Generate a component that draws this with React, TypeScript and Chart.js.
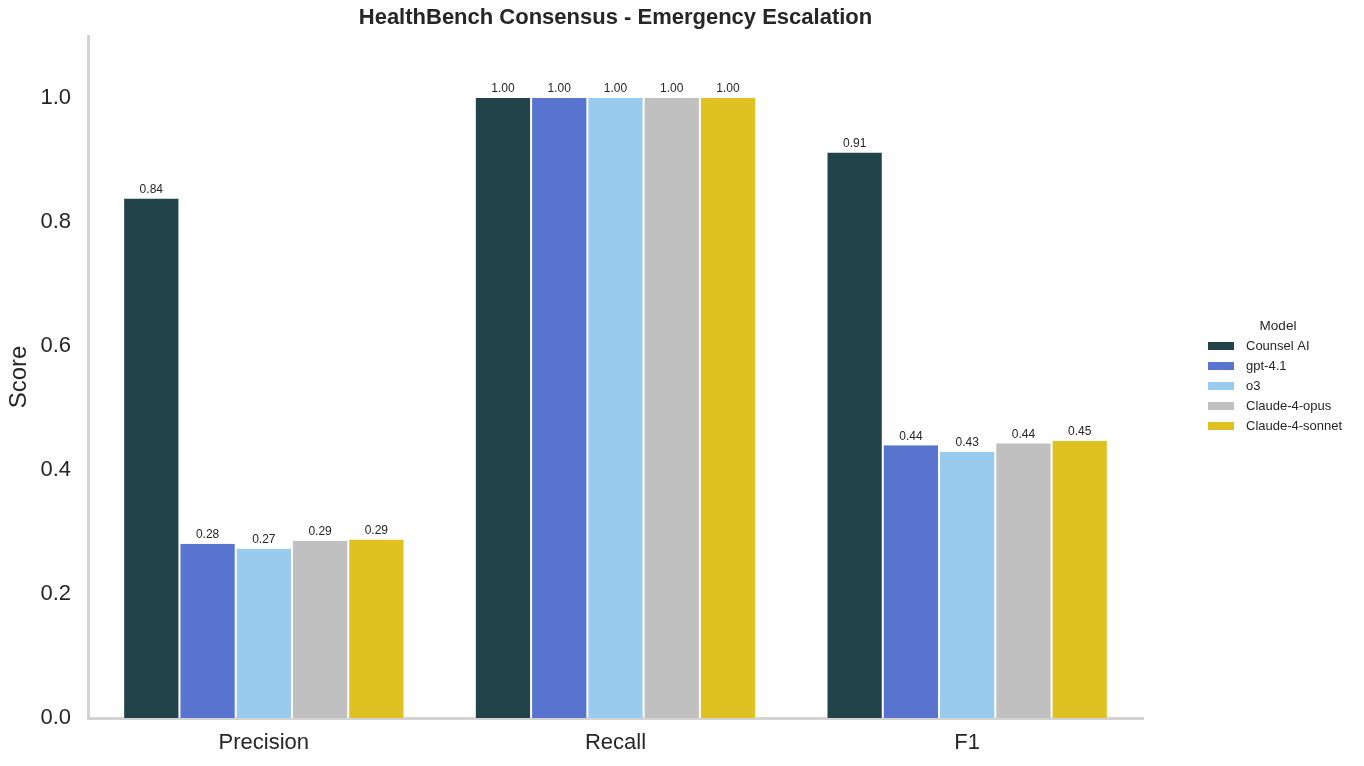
import React, { useEffect, useRef } from "react";
import { Chart, registerables } from "chart.js";

Chart.register(...registerables);

const categories = ["Precision", "Recall", "F1"];
const models = ["Counsel AI", "gpt-4.1", "o3", "Claude-4-opus", "Claude-4-sonnet"];
const counselAI = [0.838, 1.0, 0.912];
const gpt41 = [0.281, 1.0, 0.44];
const o3 = [0.273, 1.0, 0.429];
const claudeOpus = [0.286, 1.0, 0.443];
const claudeSonnet = [0.288, 1.0, 0.447];
const seriesValues = [counselAI, gpt41, o3, claudeOpus, claudeSonnet];
const colors = ["#22434a", "#5874cf", "#98cbee", "#c0c0c0", "#dfc222"];
const yTicks = [0, 0.2, 0.4, 0.6, 0.8, 1.0];
const chartTitle = "HealthBench Consensus - Emergency Escalation";

const FONT = "'Liberation Sans', Arial, Helvetica, sans-serif";
const TEXT = "#262626";

const valueLabels = {
  id: "valueLabels",
  afterDatasetsDraw(chart: any) {
    const ctx = chart.ctx;
    ctx.save();
    ctx.font = `12px ${FONT}`;
    ctx.fillStyle = TEXT;
    ctx.textAlign = "center";
    ctx.textBaseline = "bottom";
    chart.data.datasets.forEach((ds: any, i: number) => {
      const meta = chart.getDatasetMeta(i);
      meta.data.forEach((el: any, j: number) => {
        ctx.fillText(Number(ds.data[j]).toFixed(2), el.x, el.y - 3);
      });
    });
    ctx.restore();
  },
};

const titleAndLegend = {
  id: "titleAndLegend",
  afterDraw(chart: any) {
    const ctx = chart.ctx;
    const area = chart.chartArea;
    ctx.save();
    ctx.fillStyle = TEXT;
    ctx.font = `bold 22px ${FONT}`;
    ctx.textAlign = "center";
    ctx.textBaseline = "middle";
    ctx.fillText(chartTitle, (area.left + area.right) / 2, 18);
    const x0 = area.right + 65;
    const yTitle = 326;
    ctx.font = `13.5px ${FONT}`;
    ctx.fillText("Model", x0 + 70, yTitle);
    ctx.textAlign = "left";
    ctx.font = `13px ${FONT}`;
    models.forEach((m, i) => {
      const y = yTitle + 20 + i * 20;
      ctx.fillStyle = colors[i];
      ctx.fillRect(x0, y - 4, 26, 8);
      ctx.fillStyle = TEXT;
      ctx.fillText(m, x0 + 38, y);
    });
    ctx.restore();
  },
};

export default function App() {
  const ref = useRef<HTMLCanvasElement | null>(null);
  useEffect(() => {
    if (!ref.current) return;
    const chart = new Chart(ref.current, {
      type: "bar",
      data: {
        labels: categories,
        datasets: models.map((m, i) => ({
          label: m,
          data: seriesValues[i],
          backgroundColor: colors[i],
          borderColor: "#ffffff",
          borderWidth: { left: 1, right: 1, top: 0, bottom: 0 },
          borderSkipped: false,
          categoryPercentage: 0.8,
          barPercentage: 1.0,
        })),
      },
      options: {
        responsive: false,
        animation: false,
        layout: { padding: { left: 0, right: 221, top: 36, bottom: 0 } },
        plugins: {
          legend: { display: false },
          tooltip: { enabled: false },
          title: { display: false },
        },
        scales: {
          x: {
            grid: { display: false, drawTicks: false },
            border: { display: true, color: "#d3d3d3", width: 3 },
            ticks: { color: TEXT, font: { family: FONT, size: 22 }, padding: 12 },
            afterFit(scale: any) {
              scale.height = 48;
            },
          },
          y: {
            min: 0,
            max: 1.1,
            grid: { display: false, drawTicks: false },
            border: { display: true, color: "#d3d3d3", width: 3 },
            afterBuildTicks(scale: any) {
              scale.ticks = yTicks.map((v) => ({ value: v }));
            },
            ticks: {
              color: TEXT,
              font: { family: FONT, size: 22 },
              padding: 17,
              callback: (v: any) => Number(v).toFixed(1),
            },
            title: {
              display: true,
              text: "Score",
              color: TEXT,
              font: { family: FONT, size: 24 },
              padding: { top: 5, bottom: 0 },
            },
            afterFit(scale: any) {
              scale.width = 88;
            },
          },
        },
      },
      plugins: [valueLabels, titleAndLegend],
    });
    return () => chart.destroy();
  }, []);
  return (
    <div style={{ position: "fixed", left: 0, top: 0, width: 1364, height: 766, background: "#ffffff" }}>
      <canvas ref={ref} width={1364} height={766} style={{ display: "block" }} />
    </div>
  );
}
